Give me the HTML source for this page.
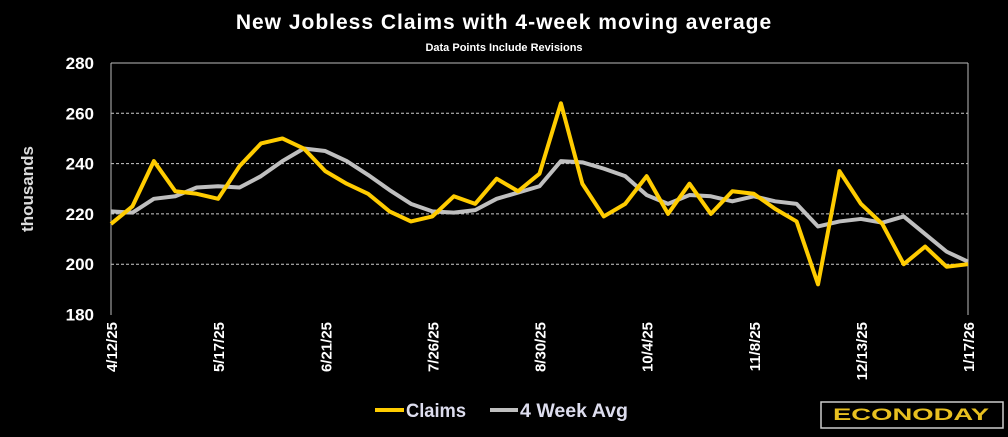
<!DOCTYPE html>
<html><head><meta charset="utf-8">
<style>
body{margin:0;background:#000;width:1008px;height:432px;overflow:hidden;font-family:"Liberation Sans",sans-serif;}
svg text{font-family:"Liberation Sans",sans-serif;}
</style></head>
<body>
<svg width="1008" height="432">
<text x="504" y="29" fill="#fff" font-size="21" font-weight="bold" text-anchor="middle" letter-spacing="1">New Jobless Claims with 4-week moving average</text>
<text x="504" y="51" fill="#fff" font-size="11" font-weight="bold" text-anchor="middle">Data Points Include Revisions</text>
<text transform="translate(33,189) rotate(-90)" fill="#ddd" font-size="17" font-weight="bold" text-anchor="middle">thousands</text>
<g id="grid"></g>
<g id="yt"></g>
<g id="xt"></g>
<line x1="111" y1="63" x2="111" y2="315" stroke="#bbb" stroke-width="1"/>
<line x1="968" y1="63" x2="968" y2="315" stroke="#bbb" stroke-width="1"/>
<polyline id="avg" fill="none" stroke="#bfbfbf" stroke-width="4" stroke-linejoin="round"/>
<polyline id="claims" fill="none" stroke="#ffcc00" stroke-width="4" stroke-linejoin="round"/>
<g>
<line x1="375" y1="410" x2="404" y2="410" stroke="#ffcc00" stroke-width="4"/>
<text x="406" y="417" fill="#dde" font-size="19" font-weight="bold" textLength="60" lengthAdjust="spacingAndGlyphs">Claims</text></g>
<g>
<line x1="490" y1="410" x2="518" y2="410" stroke="#bfbfbf" stroke-width="4"/>
<text x="520" y="417" fill="#dde" font-size="19" font-weight="bold" textLength="108" lengthAdjust="spacingAndGlyphs">4 Week Avg</text></g>
<g>
<rect x="821" y="402" width="182" height="26" fill="#000" stroke="#ccc" stroke-width="1.5"/>
<text x="833" y="420" fill="#e8c020" font-size="17" font-weight="bold" textLength="156" lengthAdjust="spacingAndGlyphs">ECONODAY</text></g>
</svg>
<script>
const claims=[216,223,241,229,228,226,239,248,250,246,237,232,228,221,217,219,227,224,234,229,236,264,232,219,224,235,220,232,220,229,228,222,217,192,237,224,216,200,207,199,200];
const avg=[221,220.5,226,227,230.5,231,230.5,235,241,246,245,241,235.5,229.5,224,221,220.5,221.5,226,228.5,231,241,240.5,238,235,227.5,224,227.5,227,225,227,225,224,215,217,218,216.5,219,212,205,201];
const yTicks=[180,200,220,240,260,280];
const xLabels=["4/12/25","5/17/25","6/21/25","7/26/25","8/30/25","10/4/25","11/8/25","12/13/25","1/17/26"];
const xLabelIdx=[0,5,10,15,20,25,30,35,40];
const X=i=>111+i*(857/40);
const Y=v=>314.5-(v-180)*(251.5/100);
const NS="http://www.w3.org/2000/svg";
const grid=document.getElementById('grid'),yt=document.getElementById('yt'),xt=document.getElementById('xt');
yTicks.forEach(t=>{
 if(t>180){const l=document.createElementNS(NS,'line');
 l.setAttribute('x1',111);l.setAttribute('x2',968);l.setAttribute('y1',Y(t));l.setAttribute('y2',Y(t));
 l.setAttribute('stroke',t==280?'#bbb':'#ccc');l.setAttribute('stroke-dasharray',t==280?'':'3,2');l.setAttribute('stroke-width','1');
 
 
 grid.appendChild(l);}
 const tx=document.createElementNS(NS,'text');
 tx.setAttribute('x',94);tx.setAttribute('y',Y(t)+6);tx.setAttribute('fill','#fff');tx.setAttribute('font-size','17');tx.setAttribute('font-weight','bold');tx.setAttribute('text-anchor','end');
 tx.textContent=t;
 
 
 yt.appendChild(tx);
});
xLabels.forEach((s,k)=>{
 const x=X(xLabelIdx[k]);
 const tx=document.createElementNS(NS,'text');
 tx.setAttribute('transform',`translate(${x+6},322) rotate(-90)`);
 tx.setAttribute('fill','#fff');tx.setAttribute('font-size','15');tx.setAttribute('font-weight','bold');tx.setAttribute('text-anchor','end');
 tx.textContent=s;
 
 
 xt.appendChild(tx);
});
document.getElementById('claims').setAttribute('points',claims.map((v,i)=>X(i)+','+Y(v)).join(' '));
document.getElementById('avg').setAttribute('points',avg.map((v,i)=>X(i)+','+Y(v)).join(' '));
</script>
</body></html>
